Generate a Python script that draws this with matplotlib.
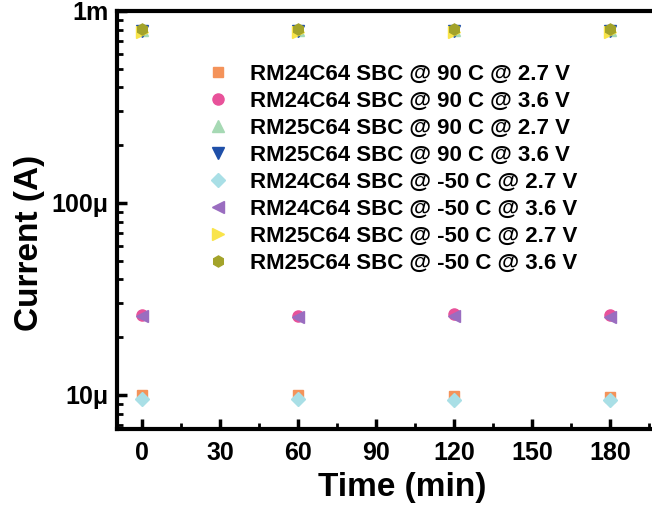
import numpy as np
import matplotlib
matplotlib.use("Agg")
import matplotlib.pyplot as plt
from matplotlib.ticker import FixedLocator, LogLocator, FuncFormatter, MultipleLocator

plt.rcParams['font.family'] = ['Liberation Sans', 'DejaVu Sans']
plt.rcParams['font.weight'] = 'bold'

time = [0, 60, 120, 180]

labels = [
    "RM24C64 SBC @ 90 C @ 2.7 V",
    "RM24C64 SBC @ 90 C @ 3.6 V",
    "RM25C64 SBC @ 90 C @ 2.7 V",
    "RM25C64 SBC @ 90 C @ 3.6 V",
    "RM24C64 SBC @ -50 C @ 2.7 V",
    "RM24C64 SBC @ -50 C @ 3.6 V",
    "RM25C64 SBC @ -50 C @ 2.7 V",
    "RM25C64 SBC @ -50 C @ 3.6 V",
]

# current in A
rm24_90_27 = [10.0e-6, 10.0e-6, 9.9e-6, 9.8e-6]
rm24_90_36 = [26.0e-6, 25.8e-6, 26.3e-6, 26.0e-6]
rm25_90_27 = [8.0e-4, 8.0e-4, 8.0e-4, 8.0e-4]
rm25_90_36 = [7.9e-4, 7.9e-4, 7.9e-4, 7.9e-4]
rm24_m50_27 = [9.5e-6, 9.5e-6, 9.4e-6, 9.4e-6]
rm24_m50_36 = [25.8e-6, 25.6e-6, 25.8e-6, 25.6e-6]
rm25_m50_27 = [7.8e-4, 7.8e-4, 7.8e-4, 7.8e-4]
rm25_m50_36 = [8.1e-4, 8.1e-4, 8.1e-4, 8.1e-4]

series = [rm24_90_27, rm24_90_36, rm25_90_27, rm25_90_36,
          rm24_m50_27, rm24_m50_36, rm25_m50_27, rm25_m50_36]
markers = ['s', 'o', '^', 'v', 'D', '<', '>', 'h']
colors = ['#F4935A', '#E8529A', '#A6D9B4', '#1F4FA8',
          '#A9DFE6', '#9A6DC0', '#F9E44A', '#A3A32A']
sizes = [7, 8, 8, 8, 7, 8, 8, 8]

fig = plt.figure(figsize=(6.52, 5.08), dpi=100)
ax = fig.add_axes([117/652, 1 - 429/508, (652 - 117)/652, (429 - 11)/508])

for ys, m, c, s, lab in zip(series, markers, colors, sizes, labels):
    ax.plot(time, ys, linestyle='none', marker=m, color=c, markersize=s, label=lab)

ax.set_yscale('log')
ax.set_xlim(-9.6, 196.2)
ax.set_ylim(6.65e-6, 1.0e-3)

ax.xaxis.set_major_locator(FixedLocator([0, 30, 60, 90, 120, 150, 180]))
ax.xaxis.set_minor_locator(MultipleLocator(15))
ax.yaxis.set_major_locator(FixedLocator([1e-5, 1e-4, 1e-3]))
ax.yaxis.set_minor_locator(LogLocator(base=10, subs=np.arange(2, 10)))
ax.yaxis.set_minor_formatter(FuncFormatter(lambda v, p: ""))
ylabels = {1e-5: "10\u03bc", 1e-4: "100\u03bc", 1e-3: "1m"}
ax.yaxis.set_major_formatter(FuncFormatter(
    lambda v, p: min(ylabels.items(), key=lambda kv: abs(np.log10(kv[0]) - np.log10(v)))[1]))

ax.tick_params(which='major', direction='in', length=7, width=2.5, labelsize=18)
ax.tick_params(which='minor', direction='in', length=4, width=2)
ax.tick_params(axis='x', which='major', pad=9)
ax.tick_params(axis='y', which='major', pad=6)
ax.tick_params(axis='x', which='both', top=False)
for side in ['left', 'bottom', 'top']:
    ax.spines[side].set_linewidth(3)
ax.spines['right'].set_visible(False)

ax.set_xlabel("Time (min)", fontsize=24, fontweight='bold')
ax.set_ylabel("Current (A)", fontsize=24, fontweight='bold')
ax.xaxis.set_label_coords(0.533, -0.103)
ax.yaxis.set_label_coords(-0.135, 0.445)

ax.legend(loc='upper left', bbox_to_anchor=(196/652, 1 - 64/508),
          bbox_transform=fig.transFigure, frameon=False,
          prop={'size': 16, 'weight': 'bold'}, handlelength=2.0,
          handletextpad=0.45, labelspacing=0.27, borderpad=0, borderaxespad=0)

fig.savefig("out.png", dpi=100)
